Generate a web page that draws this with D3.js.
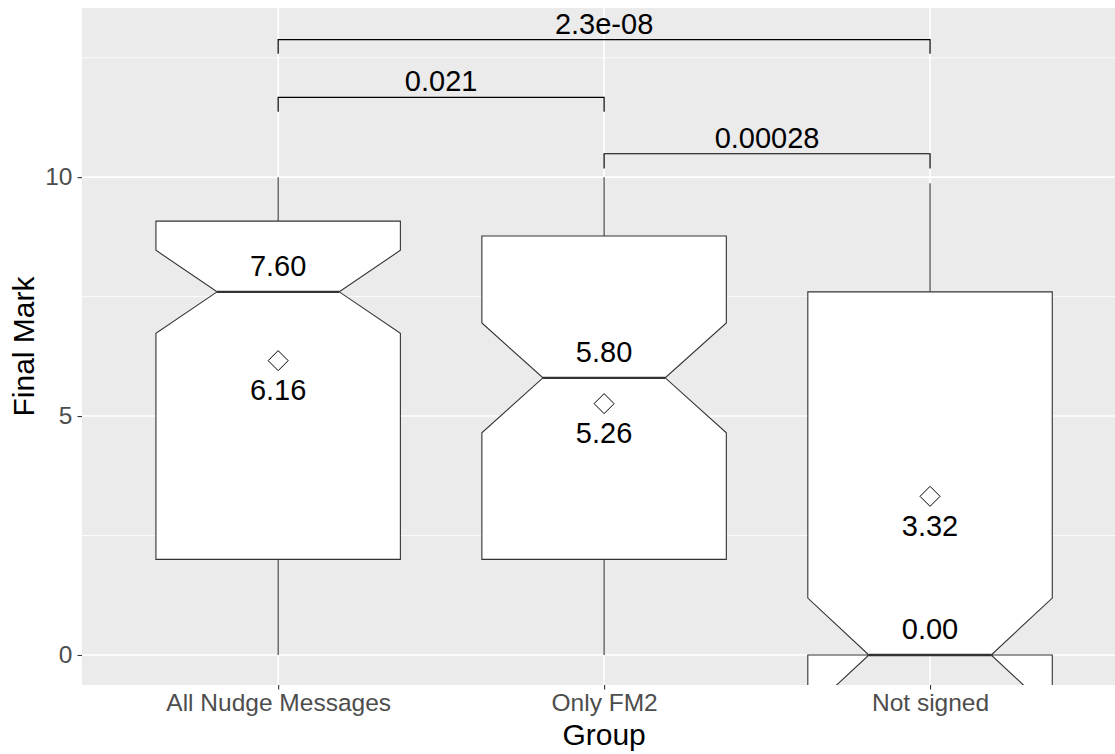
<!DOCTYPE html>
<html>
<head>
<meta charset="utf-8">
<script src="https://cdn.jsdelivr.net/npm/d3@7"></script>
<style>
  html, body { margin: 0; padding: 0; background: #fff; }
  svg { display: block; }
  text { font-family: "Liberation Sans", Arial, sans-serif; }
</style>
</head>
<body>
<svg id="chart" width="1115" height="754"></svg>
<script>
// ---- data ----
const groups = ["All Nudge Messages", "Only FM2", "Not signed"];
const whiskerLow = [0, 0, 0];
const q1 = [2, 2, 0];
const median = [7.6, 5.8, 0];
const q3 = [9.08, 8.77, 7.6];
const whiskerHigh = [10, 10, 9.87];
const notchLow = [6.73, 4.65, -1.19];
const notchHigh = [8.47, 6.95, 1.19];
const means = [6.16, 5.26, 3.32];
const medianLabels = ["7.60", "5.80", "0.00"];
const meanLabels = ["6.16", "5.26", "3.32"];
const compFrom = [0, 1, 0];
const compTo = [1, 2, 2];
const compY = [11.67, 10.49, 12.88];
const compTipY = [11.37, 10.18, 12.58];
const compLabels = ["0.021", "0.00028", "2.3e-08"];
const yTicks = [0, 5, 10];
const yMinor = [2.5, 7.5, 12.5];

// ---- layout ----
const W = 1115, H = 754;
const panel = { left: 82, top: 8, right: 1115, bottom: 685 };
const virtualLeft = 82.6, virtualRight = 1125.6;

const svg = d3.select("#chart");

const x = d3.scalePoint().domain(groups).range([virtualLeft, virtualRight]).padding(0.6);
const step = x.step();
const boxW = step * 0.75;
const y = d3.scaleLinear().domain([-0.628, 13.54]).range([panel.bottom, panel.top]);

svg.append("defs").append("clipPath").attr("id", "clip")
  .append("rect")
  .attr("x", panel.left).attr("y", panel.top)
  .attr("width", panel.right - panel.left).attr("height", panel.bottom - panel.top);

// panel background
svg.append("rect")
  .attr("x", panel.left).attr("y", panel.top)
  .attr("width", panel.right - panel.left).attr("height", panel.bottom - panel.top)
  .attr("fill", "#EBEBEB");

const g = svg.append("g").attr("clip-path", "url(#clip)");

// minor gridlines
g.selectAll("line.minor").data(yMinor).join("line")
  .attr("x1", panel.left).attr("x2", panel.right)
  .attr("y1", d => y(d)).attr("y2", d => y(d))
  .attr("stroke", "#fff").attr("stroke-width", 0.8);
// major gridlines
g.selectAll("line.majorY").data(yTicks).join("line")
  .attr("x1", panel.left).attr("x2", panel.right)
  .attr("y1", d => y(d)).attr("y2", d => y(d))
  .attr("stroke", "#fff").attr("stroke-width", 1.6);
g.selectAll("line.majorX").data(groups).join("line")
  .attr("x1", d => x(d)).attr("x2", d => x(d))
  .attr("y1", panel.top).attr("y2", panel.bottom)
  .attr("stroke", "#fff").attr("stroke-width", 1.6);

const idx = groups.map((d, i) => i);

// whiskers
g.selectAll("line.wu").data(idx).join("line")
  .attr("x1", i => x(groups[i])).attr("x2", i => x(groups[i]))
  .attr("y1", i => y(q3[i])).attr("y2", i => y(whiskerHigh[i]))
  .attr("stroke", "#333").attr("stroke-width", 1.1);
g.selectAll("line.wl").data(idx).join("line")
  .attr("x1", i => x(groups[i])).attr("x2", i => x(groups[i]))
  .attr("y1", i => y(q1[i])).attr("y2", i => y(whiskerLow[i]))
  .attr("stroke", "#333").attr("stroke-width", 1.1);

// notched boxes
function boxPath(i) {
  const cx = x(groups[i]);
  const l = cx - boxW / 2, r = cx + boxW / 2;
  const nl = cx - boxW / 4, nr = cx + boxW / 4;
  const pts = [
    [l, y(q1[i])], [l, y(notchLow[i])], [nl, y(median[i])], [l, y(notchHigh[i])], [l, y(q3[i])],
    [r, y(q3[i])], [r, y(notchHigh[i])], [nr, y(median[i])], [r, y(notchLow[i])], [r, y(q1[i])]
  ];
  return d3.line()(pts) + "Z";
}
g.selectAll("path.box").data(idx).join("path")
  .attr("d", boxPath)
  .attr("fill", "#fff").attr("stroke", "#333").attr("stroke-width", 1.1)
  .attr("stroke-linejoin", "miter");

// median lines
g.selectAll("line.med").data(idx).join("line")
  .attr("x1", i => x(groups[i]) - boxW / 4).attr("x2", i => x(groups[i]) + boxW / 4)
  .attr("y1", i => y(median[i])).attr("y2", i => y(median[i]))
  .attr("stroke", "#333").attr("stroke-width", 2.3);

// mean diamonds
const dr = 10;
g.selectAll("path.mean").data(idx).join("path")
  .attr("d", i => {
    const cx = x(groups[i]), cy = y(means[i]);
    return `M${cx},${cy - dr}L${cx + dr},${cy}L${cx},${cy + dr}L${cx - dr},${cy}Z`;
  })
  .attr("fill", "none").attr("stroke", "#000").attr("stroke-width", 1);

// labels
g.selectAll("text.medl").data(idx).join("text")
  .attr("x", i => x(groups[i])).attr("y", i => y(median[i]) - 15.5)
  .attr("text-anchor", "middle").attr("font-size", 29).attr("fill", "#000")
  .text(i => medianLabels[i]);
g.selectAll("text.meanl").data(idx).join("text")
  .attr("x", i => x(groups[i])).attr("y", i => y(means[i]) + 39.5)
  .attr("text-anchor", "middle").attr("font-size", 29).attr("fill", "#000")
  .text(i => meanLabels[i]);

// comparison brackets
const ci = compLabels.map((d, i) => i);
g.selectAll("path.br").data(ci).join("path")
  .attr("d", k => {
    const x1 = x(groups[compFrom[k]]), x2 = x(groups[compTo[k]]);
    return `M${x1},${y(compTipY[k])}L${x1},${y(compY[k])}L${x2},${y(compY[k])}L${x2},${y(compTipY[k])}`;
  })
  .attr("fill", "none").attr("stroke", "#000").attr("stroke-width", 1.2);
g.selectAll("text.brl").data(ci).join("text")
  .attr("x", k => (x(groups[compFrom[k]]) + x(groups[compTo[k]])) / 2)
  .attr("y", k => y(compY[k]) - 6)
  .attr("text-anchor", "middle").attr("font-size", 29).attr("fill", "#000")
  .text(k => compLabels[k]);

// axes
const yAxis = svg.append("g").attr("transform", `translate(${panel.left},0)`)
  .call(d3.axisLeft(y).tickValues(yTicks).tickSize(4.5).tickPadding(5).tickFormat(d3.format("d")));
yAxis.select(".domain").remove();
yAxis.selectAll(".tick line").attr("stroke", "#333").attr("stroke-width", 1.1);
yAxis.selectAll(".tick text").attr("font-size", 24.5).attr("fill", "#4D4D4D")
  .attr("font-family", "Liberation Sans, Arial, sans-serif");

const xAxis = svg.append("g").attr("transform", `translate(0,${panel.bottom})`)
  .call(d3.axisBottom(x).tickSize(4.5).tickPadding(4));
xAxis.select(".domain").remove();
xAxis.selectAll(".tick line").attr("stroke", "#333").attr("stroke-width", 1.1);
xAxis.selectAll(".tick text").attr("font-size", 24.5).attr("fill", "#4D4D4D")
  .attr("font-family", "Liberation Sans, Arial, sans-serif");

// axis titles
svg.append("text")
  .attr("x", x(groups[1])).attr("y", 745)
  .attr("text-anchor", "middle").attr("font-size", 30).attr("fill", "#000")
  .text("Group");
svg.append("text")
  .attr("transform", `translate(34,${(panel.top + panel.bottom) / 2}) rotate(-90)`)
  .attr("text-anchor", "middle").attr("font-size", 30).attr("fill", "#000")
  .text("Final Mark");
</script>
</body>
</html>
